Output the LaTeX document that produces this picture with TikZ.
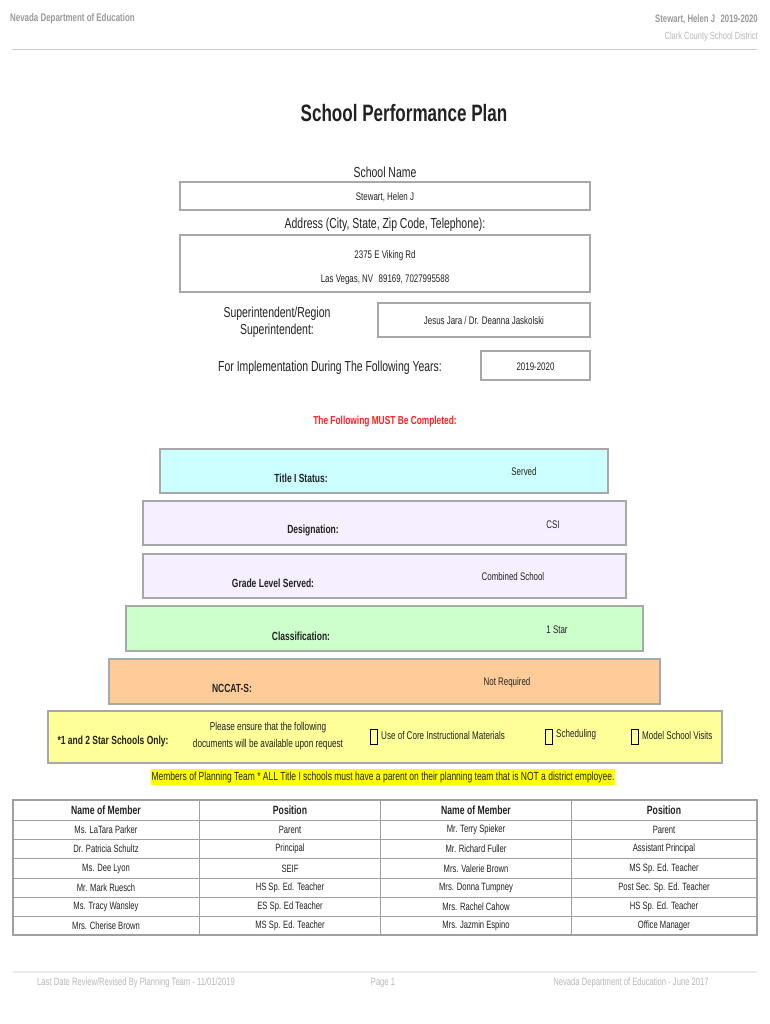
\documentclass[tikz,border=0pt]{standalone}
\usepackage{fontspec}
\setmainfont{Liberation Sans}[FakeStretch=0.72]
\definecolor{ink}{HTML}{222222}
\definecolor{hdrgray}{HTML}{9A9A9A}
\definecolor{ftgray}{HTML}{B8B8B8}
\definecolor{boxgray}{HTML}{A8A8A8}
\definecolor{cyanfill}{HTML}{CCFFFF}
\definecolor{lavfill}{HTML}{F5EFFF}
\definecolor{greenfill}{HTML}{CCFFCC}
\definecolor{peachfill}{HTML}{FFCC99}
\definecolor{yelfill}{HTML}{FFFF99}
\definecolor{hilite}{HTML}{FFFF00}
\definecolor{redtxt}{HTML}{FF2020}
\definecolor{tblline}{HTML}{A0A0A0}
\begin{document}
\begin{tikzpicture}[x=1pt,y=-1pt,
  txt/.style={inner sep=0pt, text=ink},
  sz10/.style={font=\fontsize{10.6}{12}\selectfont},
  sz11/.style={font=\fontsize{11}{12}\selectfont},
  lblb/.style={font=\fontsize{11.8}{13}\selectfont\bfseries},
  thb/.style={font=\fontsize{12}{13}\selectfont\bfseries},
  sz14/.style={font=\fontsize{14.5}{17}\selectfont},
  fieldbox/.style={draw=boxgray, line width=1.6pt, fill=white, inner sep=0pt},
  band/.style={draw=boxgray, line width=1.5pt, inner sep=0pt},
  cbox/.style={draw=black, line width=0.9pt, inner sep=0pt, minimum width=7pt, minimum height=15pt},
]
\useasboundingbox (0,0) rectangle (770,1024);
\fill[white] (0,0) rectangle (770,1024);

% header
\node[txt, anchor=west, text=hdrgray, font=\fontsize{11}{12}\selectfont\bfseries] (hl) at (10,19) {Nevada Department of Education};
\node[txt, anchor=east, text=hdrgray, font=\fontsize{10.8}{12}\selectfont\bfseries] (hr) at (758,19) {Stewart, Helen J\enspace 2019-2020};
\node[txt, anchor=east, text=ftgray, font=\fontsize{10.4}{12}\selectfont] (hd) at (758,37) {Clark County School District};
\coordinate (hla) at (12,49);
\coordinate (hlb) at (757,49);
\draw[draw=black!20, line width=0.8pt] (hla) -- (hlb);

% title
\node[txt, font=\fontsize{23.7}{28}\selectfont\bfseries] (title) at (404,113) {School Performance Plan};

% school name
\node[txt, sz14] (snl) at (385,172) {School Name};
\node[fieldbox, minimum width=410pt, minimum height=28pt] (snb) at (385,196) {};
\node[txt, sz11] (snt) at (385,197) {Stewart, Helen J};

% address
\node[txt, sz14] (adl) at (385,225) {Address (City, State, Zip Code, Telephone):};
\node[fieldbox, minimum width=410pt, minimum height=57pt] (adb) at (385,263.5) {};
\node[txt, sz11] (ad1) at (385,256) {2375 E Viking Rd};
\node[txt, sz11] (ad2) at (385,280) {Las Vegas, NV\enspace 89169, 7027995588};

% superintendent
\node[txt, align=center, font=\fontsize{14.5}{17}\selectfont] (spl) at (277,322) {Superintendent/Region\\Superintendent:};
\node[fieldbox, minimum width=212pt, minimum height=34pt] (spb) at (484,320) {};
\node[txt, sz11] (spt) at (484,321) {Jesus Jara / Dr. Deanna Jaskolski};

% years
\node[txt, sz14] (yrl) at (330,368) {For Implementation During The Following Years:};
\node[fieldbox, minimum width=109pt, minimum height=29pt] (yrb) at (535.5,365.5) {};
\node[txt, sz11] (yrt) at (535.5,367) {2019-2020};

% must be completed
\node[txt, text=redtxt, font=\fontsize{11.6}{13}\selectfont\bfseries] (must) at (385,422) {The Following MUST Be Completed:};

% bands
\node[band, fill=cyanfill, minimum width=448pt, minimum height=44pt] (b1) at (384,471) {};
\node[txt, lblb] (b1l) at (301,478) {Title I Status:};
\node[txt, sz11] (b1v) at (524,472) {Served};

\node[band, fill=lavfill, minimum width=483pt, minimum height=44pt] (b2) at (384.5,523) {};
\node[txt, lblb] (b2l) at (313,530) {Designation:};
\node[txt, sz11] (b2v) at (553,525) {CSI};

\node[band, fill=lavfill, minimum width=483pt, minimum height=44pt] (b3) at (384.5,576) {};
\node[txt, lblb] (b3l) at (273,583) {Grade Level Served:};
\node[txt, sz11] (b3v) at (513,577) {Combined School};

\node[band, fill=greenfill, minimum width=517pt, minimum height=45pt] (b4) at (384.5,628.5) {};
\node[txt, lblb] (b4l) at (301,636) {Classification:};
\node[txt, sz11] (b4v) at (557,630) {1 Star};

\node[band, fill=peachfill, minimum width=551pt, minimum height=45pt] (b5) at (384.5,681.5) {};
\node[txt, lblb] (b5l) at (232,688) {NCCAT-S:};
\node[txt, sz11] (b5v) at (507,683) {Not Required};

% yellow box
\node[band, fill=yelfill, minimum width=674pt, minimum height=52pt] (yb) at (385,737) {};
\node[txt, lblb] (ybl) at (113,741) {*1 and 2 Star Schools Only:};
\node[txt, align=center, font=\fontsize{11.4}{17}\selectfont] (ybp) at (268,736.5) {Please ensure that the following\\documents will be available upon request};
\node[cbox] (cb1) at (373.5,736.5) {};
\node[txt, anchor=west, font=\fontsize{11.2}{12}\selectfont] (cb1t) at (381,735) {Use of Core Instructional Materials};
\node[cbox] (cb2) at (548.5,736.5) {};
\node[txt, anchor=west, font=\fontsize{11.2}{12}\selectfont] (cb2t) at (556,735) {Scheduling};
\node[cbox] (cb3) at (634.5,736.5) {};
\node[txt, anchor=west, font=\fontsize{11.2}{12}\selectfont] (cb3t) at (642,735) {Model School Visits};

% highlighted note
\node[txt, fill=hilite, inner xsep=1pt, inner ysep=2.5pt, font=\fontsize{11.8}{13}\selectfont] (note) at (383,777) {Members of Planning Team * ALL Title I schools must have a parent on their planning team that is NOT a district employee.};

% table
\draw[draw=tblline, line width=1.3pt] (13,800) rectangle (757,935);
\foreach \yy in {820,839,858,878,897,916} {
  \draw[draw=tblline, line width=0.9pt] (13,\yy) -- (757,\yy);
}
\foreach \xx in {199,380,571} {
  \draw[draw=tblline, line width=0.9pt] (\xx,800) -- (\xx,935);
}
\node[txt, thb] (th1) at (106,810.5) {Name of Member};
\node[txt, thb] (th2) at (290,810.5) {Position};
\node[txt, thb] (th3) at (476,810.5) {Name of Member};
\node[txt, thb] (th4) at (664,810.5) {Position};

\node[txt, sz10] (r1a) at (106,830) {Ms. LaTara Parker};
\node[txt, sz10] (r1b) at (290,830) {Parent};
\node[txt, sz10] (r1c) at (476,830) {Mr. Terry Spieker};
\node[txt, sz10] (r1d) at (664,830) {Parent};

\node[txt, sz10] (r2a) at (106,849) {Dr. Patricia Schultz};
\node[txt, sz10] (r2b) at (290,849) {Principal};
\node[txt, sz10] (r2c) at (476,849) {Mr. Richard Fuller};
\node[txt, sz10] (r2d) at (664,849) {Assistant Principal};

\node[txt, sz10] (r3a) at (106,868.5) {Ms. Dee Lyon};
\node[txt, sz10] (r3b) at (290,868.5) {SEIF};
\node[txt, sz10] (r3c) at (476,868.5) {Mrs. Valerie Brown};
\node[txt, sz10] (r3d) at (664,868.5) {MS Sp. Ed. Teacher};

\node[txt, sz10] (r4a) at (106,887.5) {Mr. Mark Ruesch};
\node[txt, sz10] (r4b) at (290,887.5) {HS Sp. Ed. Teacher};
\node[txt, sz10] (r4c) at (476,887.5) {Mrs. Donna Tumpney};
\node[txt, sz10] (r4d) at (664,887.5) {Post Sec. Sp. Ed. Teacher};

\node[txt, sz10] (r5a) at (106,906.5) {Ms. Tracy Wansley};
\node[txt, sz10] (r5b) at (290,906.5) {ES Sp. Ed Teacher};
\node[txt, sz10] (r5c) at (476,906.5) {Mrs. Rachel Cahow};
\node[txt, sz10] (r5d) at (664,906.5) {HS Sp. Ed. Teacher};

\node[txt, sz10] (r6a) at (106,926) {Mrs. Cherise Brown};
\node[txt, sz10] (r6b) at (290,926) {MS Sp. Ed. Teacher};
\node[txt, sz10] (r6c) at (476,926) {Mrs. Jazmin Espino};
\node[txt, sz10] (r6d) at (664,926) {Office Manager};

% footer
\coordinate (fla) at (13,972);
\coordinate (flb) at (757,972);
\draw[draw=black!8, line width=1.2pt] (fla) -- (flb);
\node[txt, sz10, text=ftgray] (f1) at (136,983) {Last Date Review/Revised By Planning Team - 11/01/2019};
\node[txt, sz10, text=ftgray] (f2) at (383,983) {Page 1};
\node[txt, sz10, text=ftgray] (f3) at (631,983) {Nevada Department of Education - June 2017};
\end{tikzpicture}
\end{document}
